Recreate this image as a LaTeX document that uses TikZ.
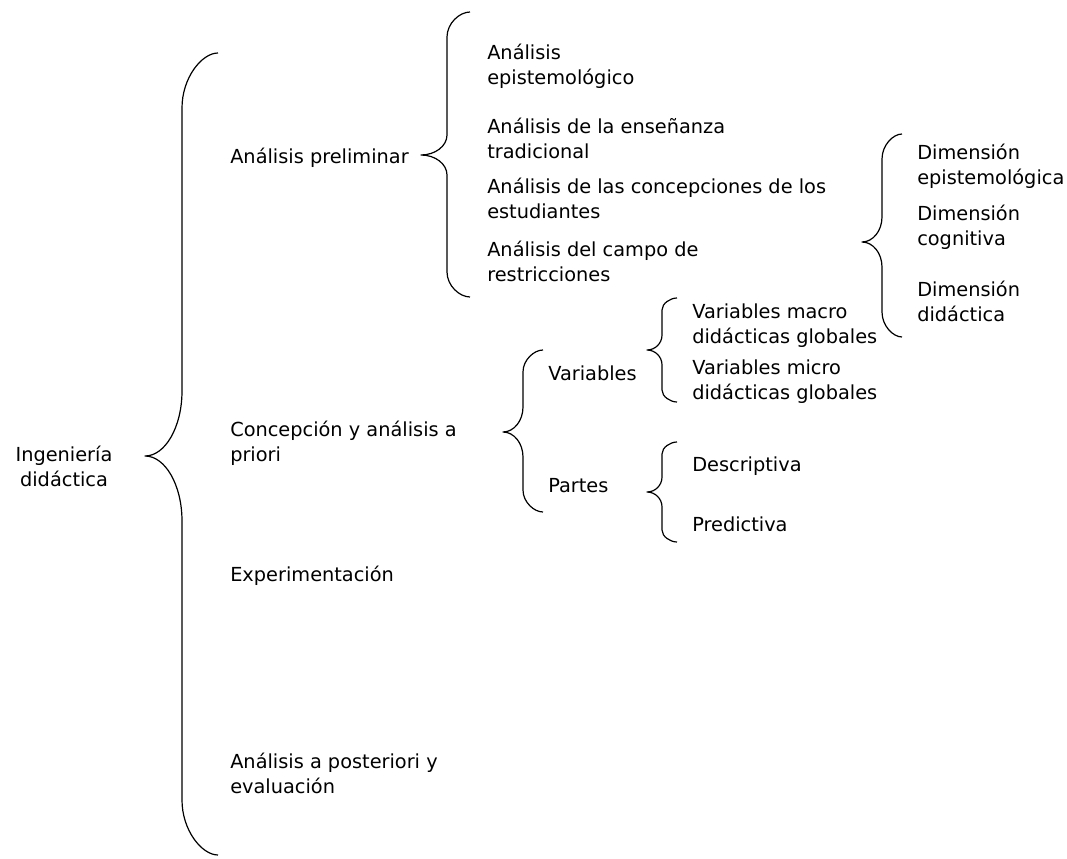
\documentclass[tikz,border=0pt]{standalone}
\usepackage{fontspec}
\setmainfont{DejaVu Sans}
\tikzset{
  lbl/.style={anchor=west, inner sep=0pt, align=left, font=\fontsize{14.5}{18.75}\selectfont},
  brc/.style={draw=black, line width=0.9pt, line join=round}
}
% #1 vertical x, #2 end x, #3 top y, #4 bottom y, #5 tip x, #6 tip y, #7 end radius, #8 tip radius
\newcommand\mybrc[8]{%
  \draw[brc] (#2,#3) .. controls ({#1+0.55*(#2-#1)},#3) and (#1,{#3+0.45*#7}) .. (#1,{#3+#7})
    -- (#1,{#6-#8}) .. controls (#1,{#6-0.45*#8}) and ({#5+0.55*(#1-#5)},#6) .. (#5,#6)
    .. controls ({#5+0.55*(#1-#5)},#6) and (#1,{#6+0.45*#8}) .. (#1,{#6+#8})
    -- (#1,{#4-#7}) .. controls (#1,{#4-0.45*#7}) and ({#1+0.55*(#2-#1)},#4) .. (#2,#4);}
\begin{document}
\begin{tikzpicture}[x=0.75pt,y=-0.75pt]
\useasboundingbox (0,0) rectangle (1067,859);
% braces
\mybrc{182}{218}{53}{855}{145}{456}{55}{65}
\mybrc{447}{470}{12}{297}{421}{155}{25}{20}
\mybrc{882}{902}{134}{337}{862}{242}{25}{25}
\mybrc{523}{543}{350}{512}{503}{432}{22}{25}
\mybrc{662}{677}{298}{402}{647}{350}{12}{15}
\mybrc{662}{677}{442}{542}{647}{492}{12}{15}
% texts
\node[lbl, anchor=center, align=center] (ing) at (64,466) {Ingeniería\\didáctica};
\node[lbl] (ap) at (230,158) {Análisis preliminar};
\node[lbl] (cap) at (230,443) {Concepción y análisis a\\priori};
\node[lbl] (exp) at (230,576) {Experimentación};
\node[lbl] (apost) at (230,773) {Análisis a posteriori y\\evaluación};
\node[lbl] (a1) at (487,66) {Análisis\\epistemológico};
\node[lbl] (a2) at (487,138) {Análisis de la enseñanza\\tradicional};
\node[lbl] (a3) at (487,198) {Análisis de las concepciones de los\\estudiantes};
\node[lbl] (a4) at (487,261) {Análisis del campo de\\restricciones};
\node[lbl] (d1) at (917,166) {Dimensión\\epistemológica};
\node[lbl] (d2) at (917,227) {Dimensión\\cognitiva};
\node[lbl] (d3) at (917,301) {Dimensión\\didáctica};
\node[lbl] (var) at (548,373) {Variables};
\node[lbl] (par) at (548,486) {Partes};
\node[lbl] (vm1) at (692,326) {Variables macro\\didácticas globales};
\node[lbl] (vm2) at (692,382) {Variables micro\\didácticas globales};
\node[lbl] (desc) at (692,466) {Descriptiva};
\node[lbl] (pred) at (692,524) {Predictiva};
\end{tikzpicture}
\end{document}
